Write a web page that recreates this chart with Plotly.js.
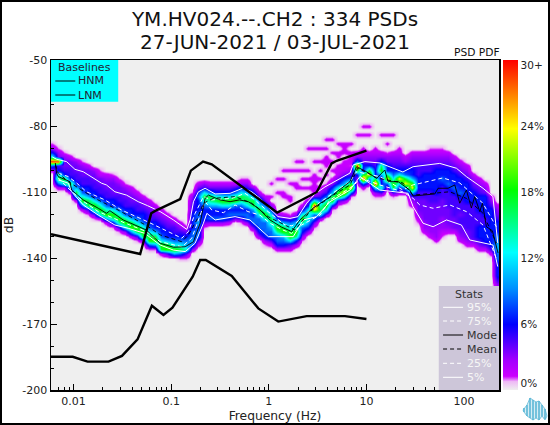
<!DOCTYPE html>
<html><head><meta charset="utf-8">
<script src="https://cdn.plot.ly/plotly-3.0.1.min.js"></script>
<style>html,body{margin:0;padding:0;background:#fff}#g{width:550px;height:425px}
#frame{position:absolute;left:0;top:0;width:550px;height:425px;box-sizing:border-box;border:2px solid #000;pointer-events:none}
#logo{position:absolute;left:522px;top:396px;width:26px;height:25px}</style>
</head><body><div id="g"></div><div id="frame"></div>
<svg id="logo" viewBox="0 0 26 25"><path d="M2 12 V16 M5 9 V20 M8 2 V22 M11 4 V24 M14 6 V22 M17 5 V24 M20 9 V20 M23 13 V23" stroke="#5cb8d6" stroke-width="1.6" fill="none"/><path d="M1 14 L5 9 L8 2 L11 4 L14 6 L17 5 L20 9 L23 13 L25 20 L23 24 L20 20 L17 24 L14 22 L11 24 L8 22 L5 20 L2 16 Z" fill="#5cb8d6" fill-opacity=".25" stroke="#5cb8d6" stroke-width=".8"/></svg>
<script>
const titleLines = ['YM.HV024.--.CH2 : 334 PSDs', '27-JUN-2021 / 03-JUL-2021'];
const yTicks = [-50,-80,-110,-140,-170,-200];
const yLabels = ['-50','-80','-110','-140','-170','-200'];
const xTicks = [0.01,0.1,1,10,100];
const xLabels = ['0.01','0.1','1','10','100'];
const xMinor = [0.006,0.007,0.008,0.009,0.02,0.03,0.04,0.05,0.06,0.07,0.08,0.09,0.2,0.3,0.4,0.5,0.6,0.7,0.8,0.9,2,3,4,5,6,7,8,9,20,30,40,50,60,70,80,90,200];
const cbTicks = [0.06,5.64,11.88,18.12,24.36,30.13];
const cbLabels = ['0%','6%','12%','18%','24%','30+'];

// Peterson baselines
const hnmF = [0.00587,0.0481,0.0624,0.0686,0.1236,0.159,0.212,0.26,1.22,3.09,4.4,4.95,10];
const hnmDb = [-129.2,-138.2,-119.7,-118.6,-113.2,-100.3,-96.2,-97.4,-119.4,-110.1,-97,-95.8,-91.2];
const lnmF = [0.00587,0.0098,0.0139,0.0228,0.0313,0.0452,0.0634,0.0833,0.103,0.166,0.198,0.226,0.417,0.78,1.25,2.44,6.03,10];
const lnmDb = [-184.9,-184.9,-187.1,-187.1,-184.5,-177,-161.7,-165.9,-162.6,-148.5,-140.9,-140.9,-148.2,-162.9,-168.9,-166.4,-166.4,-167.7];

// statistics: log10 frequency, dB
const p95L = [-2.218,-2.174,-2.072,-1.986,-1.901,-1.816,-1.714,-1.663,-1.577,-1.458,-1.338,-1.243,-1.113,-0.977,-0.84,-0.806,-0.772,-0.721,-0.653,-0.55,-0.397,-0.312,-0.264,-0.175,-0.09,-0.008,0.094,0.217,0.299,0.388,0.472,0.575,0.708,0.831,0.864,0.984,1.137,1.373,1.478,1.751,1.922,2.024,2.194,2.296,2.345];
const p95Db = [-94.1,-95.1,-96.2,-99.7,-100.8,-103,-106,-106.8,-109.9,-111.4,-114.4,-116.2,-118.9,-122.7,-127,-122.7,-114.4,-109.9,-108.3,-110.9,-110.6,-109.1,-108.2,-109.9,-112.9,-116.7,-121.2,-122,-121.2,-115.1,-110.9,-107.7,-104.5,-101.4,-97.7,-96.2,-96.8,-100.9,-98.5,-97,-99.2,-103,-108.3,-112.1,-133.2];
const p75L = [-2.157,-2.054,-1.969,-1.867,-1.679,-1.509,-1.243,-1.113,-0.891,-0.824,-0.755,-0.67,-0.584,-0.38,-0.244,-0.141,-0.008,0.166,0.237,0.336,0.421,0.626,0.83,0.899,1.137,1.373,1.475,1.547,1.782,1.956,2.191,2.331];
const p75Db = [-101.4,-103,-105.9,-109.9,-113.6,-118.2,-123.5,-126.4,-131,-128,-119.7,-112.1,-113.6,-112.9,-110.6,-113.6,-118.9,-125,-125.4,-122,-118.2,-111.4,-105.3,-100.8,-103,-109.1,-106.8,-106.1,-103.6,-105.9,-115,-125.8];
const modeL = [-2.187,-2.174,-2.157,-2.037,-2.02,-1.901,-1.747,-1.663,-1.628,-1.492,-1.253,-1.113,-0.977,-0.857,-0.772,-0.704,-0.653,-0.619,-0.499,-0.397,-0.302,-0.21,-0.107,0.012,0.132,0.234,0.319,0.401,0.452,0.626,0.831,0.899,1.001,1.104,1.188,1.222,1.325,1.444,1.478,1.58,1.7,1.734,1.836,1.905,1.956,2.024,2.075,2.109,2.161,2.188,2.229,2.29,2.348];
const modeDb = [-96.8,-101.5,-103,-105.3,-109.1,-113.6,-117.4,-119.7,-118.5,-122.7,-127.3,-133.3,-135.1,-134.9,-132.6,-124.2,-112.9,-111.4,-113.6,-114.4,-113.6,-114.4,-117.4,-122.7,-126,-128,-122.7,-119.5,-117.3,-112.3,-105.3,-98.5,-100.8,-103.8,-100,-105.3,-105.3,-109.1,-111.8,-111.4,-110.9,-108.3,-108.3,-106.8,-115.1,-109.1,-117.3,-112.1,-118.9,-115.1,-125.8,-127.6,-137.7];
const meanL = [-2.187,-2.157,-2.054,-1.969,-1.781,-1.577,-1.243,-1.113,-0.891,-0.824,-0.738,-0.67,-0.568,-0.346,-0.175,-0.008,0.166,0.268,0.336,0.421,0.626,0.831,0.912,1.104,1.373,1.475,1.854,2.024,2.191,2.331];
const meanDb = [-97.7,-101.4,-105.3,-107.6,-112.9,-117.4,-125.5,-129.5,-132.6,-129.5,-122.7,-115.1,-112.9,-112.1,-115.1,-121.2,-125,-127.3,-123.5,-118.9,-112.4,-106.8,-99.1,-103.6,-105.9,-111.4,-109.9,-112.9,-119.5,-133.2];
const p25L = [-2.157,-2.037,-1.921,-1.747,-1.474,-1.253,-1.113,-0.891,-0.789,-0.704,-0.653,-0.584,-0.465,-0.346,-0.213,-0.09,0.012,0.145,0.234,0.336,0.524,0.626,0.831,0.95,1.137,1.373,1.478,1.547,1.683,1.854,2.024,2.194,2.331];
const p25Db = [-103.6,-109.1,-113.6,-118.9,-124.1,-128,-132.6,-134.9,-131,-121.2,-114.4,-118.2,-119.4,-115.9,-118.9,-120.5,-124.2,-127.3,-128.8,-125,-120.5,-113.6,-108.3,-103.8,-106.8,-109.9,-112.9,-115.9,-117.4,-115.9,-118.9,-125,-140.2];
const p5L = [-2.157,-2.054,-2.02,-1.901,-1.747,-1.577,-1.44,-1.27,-1.113,-0.977,-0.857,-0.755,-0.67,-0.635,-0.55,-0.346,-0.193,-0.005,0.114,0.25,0.353,0.49,0.626,0.831,0.933,1.137,1.427,1.478,1.58,1.683,1.82,1.973,2.058,2.296,2.345];
const p5Db = [-104.5,-106,-109.9,-115.9,-120.5,-125,-126.5,-128.8,-134.1,-136.4,-137.1,-133.3,-124.2,-119.7,-122.7,-121.2,-122.7,-130.3,-130.3,-130.3,-122.7,-121.2,-114.4,-109.1,-103,-109.1,-110.6,-116.7,-124.2,-125.8,-122.7,-125,-131.8,-134.1,-143.9];

// PDF: one entry per frequency column: top dB, then occurrence codes every 2 dB downward
const pdfLogF = [-2.225,-2.163,-2.1,-2.038,-1.975,-1.913,-1.85,-1.788,-1.725,-1.663,-1.6,-1.538,-1.475,-1.413,-1.35,-1.288,-1.225,-1.163,-1.1,-1.038,-.975,-.913,-.85,-.788,-.725,-.663,-.6,-.538,-.475,-.413,-.35,-.288,-.225,-.163,-.1,-.038,.025,.088,.15,.213,.275,.338,.4,.463,.525,.588,.65,.713,.775,.838,.9,.963,1.025,1.088,1.15,1.213,1.275,1.338,1.4,1.463,1.525,1.588,1.65,1.713,1.775,1.838,1.9,1.963,2.025,2.088,2.15,2.213,2.275,2.338];
const pdfDb = [-78,-80,-82,-84,-86,-88,-90,-92,-94,-96,-98,-100,-102,-104,-106,-108,-110,-112,-114,-116,-118,-120,-122,-124,-126,-128,-130,-132,-134,-136,-138,-140,-142,-144,-146,-148,-150,-152];
const pdfTop = [-88,-90,-92,-94,-96,-96,-98,-100,-100,-102,-102,-104,-106,-108,-110,-112,-114,-116,-118,-120,-122,-124,-126,-110,-106,-106,-106,-106,-106,-106,-106,-104,-104,-108,-110,-112,-116,-120,-120,-120,-120,-116,-114,-110,-108,-106,-104,-102,-100,-98,-92,-92,-92,-92,-92,-92,-92,-92,-94,-92,-92,-92,-90,-90,-90,-92,-94,-96,-98,-102,-104,-106,-112,-116];
const pdfCodes = ['1369f72','134f56ac72','134456ca2','244556c82','3445568c82','13445567ad72','24455668cc51','34455669db41','12445567ada2','23445567ad82','134445669db61','13445567adb51','13445567bd93','23445668cd82','23455679dc51','2345667adc3','23455679cd71','2345668cd81','23456679dc2','2345668cd5','2355679d8','235679c71','24678a51','13455666677873','246766677877752','359ca766641','247cb86673','246ac86673','2469d96673','2469d96762','257bd7674','1369cb76751','1358bc96773','368cc867741','2579da77763','2479da777631','369cb87752','36adb7762','258cd8762','1479cd952','368adb63','25adb7631','369a9863','149fe7741','1357ac93','1357ada4','1368cd61','2469dd51','2468ce93','1357ce71','237fc631','23466cf72','2346ce83','234566bf931','236bd856a51','13466be73','2345679dc51','234569e963','23567ce83','2345668de8532','23455566655444321','2345566665544444332','123455666655544444332','1234566666655444443332','123456676555444433321','2345666765555444432','234566676555554442','2345666765554554432','2345666665555554432','23456665555555542','23456666555666542','2346666655666652','23566666666652','2345666778877666653'];
// isolated weak cells above the main band: column, dB
const sparseCol = [51,50,52,54,56,47,45,49,42,44,48,55,57,40,41,45,38,38,40,42,43,39,40,37,38,41,46,49,47,45,48,51,53,44,44,45,46,46,47,47,48,48,49,49,41,42,43,43,44,52,51,55,48,46,43,45,41,39,43,40,38,39,36,36,37,35,36,39,42,41,44,43,46,47,45,44,43];
const sparseDb = [-80,-84,-84,-84,-84,-88,-86,-88,-90,-90,-90,-88,-90,-96,-96,-96,-100,-104,-100,-104,-106,-106,-108,-110,-112,-108,-100,-96,-94,-94,-92,-90,-90,-100,-104,-102,-96,-104,-98,-100,-96,-98,-92,-94,-104,-108,-102,-110,-108,-80,-84,-84,-88,-86,-90,-90,-96,-100,-104,-106,-110,-112,-106,-112,-104,-112,-116,-114,-100,-100,-96,-96,-92,-92,-98,-112,-108];
const codePct = {'0':-0.6,'1':0.5,'2':1.4,'3':2.5,'4':3.3,'5':4.2,'6':6,'7':8,'8':10,'9':12,'a':13.5,'b':15,'c':17,'d':19,'e':24,'f':30};

const pdfZ = pdfDb.map(()=>pdfLogF.map(()=>codePct['0']));
pdfCodes.forEach((s,c)=>{ [...s].forEach((ch,k)=>{ const r=pdfDb.indexOf(pdfTop[c]-2*k); if(r>=0) pdfZ[r][c]=codePct[ch]; }); });
sparseCol.forEach((c,n)=>{ const r=pdfDb.indexOf(sparseDb[n]); if(pdfZ[r][c]<1) pdfZ[r][c]=1; });

const unlog = a=>a.map(v=>Math.pow(10,v));
const L=50.7,R=499.3,T=60,B=390;
const px=x=>(x-L)/(R-L), py=y=>(B-y)/(B-T);
const z2n=z=>(z+0.6)/31.2;
const colorscale=[[0,'#efefef'],[z2n(0.2),'#eeb8f6'],[z2n(0.7),'#cc00ff'],[z2n(2.3),'#a000ff'],[z2n(5.6),'#0000ff'],[z2n(9),'#0090ff'],[z2n(12.4),'#00ffff'],[z2n(18.3),'#00ff00'],[z2n(24.1),'#ffff00'],[1,'#ff0000']];

const line=(xs,ys,color,dash,width)=>({type:'scatter',mode:'lines',x:xs,y:ys,hoverinfo:'skip',line:{color,dash:dash||'solid',width:width||1}});
const DASH='4px,3px';
const data=[
 {type:'heatmap',x:pdfLogF.map(v=>Math.pow(10,v)),y:pdfDb,z:pdfZ,zmin:-0.6,zmax:30.6,zsmooth:'best',colorscale,hoverinfo:'skip',
  colorbar:{x:px(503.3),xanchor:'left',xpad:0,ypad:0,y:0,yanchor:'bottom',len:1,thickness:15,thicknessmode:'pixels',outlinewidth:0,ticks:'',tickmode:'array',tickvals:cbTicks,ticktext:cbLabels,ticklen:0,tickfont:{size:10.5,color:'#222',family:'DejaVu Sans'}}},
 line(unlog(p95L),p95Db,'#ffffff'),
 line(unlog(p75L),p75Db,'#ffffff',DASH),
 line(unlog(p25L),p25Db,'#ffffff',DASH),
 line(unlog(p5L),p5Db,'#ffffff'),
 line(unlog(modeL),modeDb,'#000000',null,0.9),
 line(unlog(meanL),meanDb,'#000000',DASH,0.9),
 line(hnmF,hnmDb,'#000000',null,2.4),
 line(lnmF,lnmDb,'#000000',null,2.4)
];
const shapes=[
 {type:'rect',xref:'paper',yref:'paper',x0:px(50.7),x1:px(118),y0:py(60),y1:py(101.7),fillcolor:'#0ff',line:{width:0},layer:'above'},
 {type:'rect',xref:'paper',yref:'paper',x0:px(439),x1:px(499.3),y0:py(286),y1:py(390),fillcolor:'#cdc6d9',line:{width:0},layer:'above'}
];
const annotations=[];
const txt=(x,y,t,color,anchor,size)=>annotations.push({xref:'paper',yref:'paper',x:px(x),y:py(y),text:t,showarrow:false,xanchor:anchor||'left',yanchor:'middle',xshift:0,borderpad:0,font:{size:size||11,color:color||'#222',family:'DejaVu Sans'}});
const seg=(x0,x1,y,color,dash)=>shapes.push({type:'line',xref:'paper',yref:'paper',x0:px(x0),x1:px(x1),y0:py(y),y1:py(y),layer:'above',line:{color,width:1,dash:dash||'solid'}});
txt(84,67.5,'Baselines','#223',"center");
seg(55,75,81,'#000'); txt(77,81,'HNM','#223');
seg(55,75,95,'#000'); txt(77,95,'LNM','#223');
txt(469,294,'Stats','#333','center');
[['95%','#f6f6f6',null,307.3],['75%','#f6f6f6',DASH,321],['Mode','#333',null,335],['Mean','#333',DASH,349],['25%','#f6f6f6',DASH,363.3],['5%','#f6f6f6',null,377.3]].forEach(r=>{
  seg(443.3,463.3,r[3],r[1]==='#333'?'#000':'#fff',r[2]); txt(466.5,r[3],r[0],r[1]);
});
txt(477,53,'PSD PDF','#111','center',10.7);
txt(275.5,42,titleLines[1],'#111','center',20);

const layout={
 width:550,height:425,
 margin:{l:L,r:550-R,t:T,b:425-B,autoexpand:false,pad:0},
 paper_bgcolor:'#fff',plot_bgcolor:'#efefef',showlegend:false,
 font:{family:'DejaVu Sans',color:'#222',size:11},
 title:{text:titleLines[0],font:{size:20,color:'#111',family:'DejaVu Sans'},x:0.5,xanchor:'center',xref:'paper',yref:'container',y:1-19/425,yanchor:'middle'},
 xaxis:{type:'log',range:[Math.log10(0.00587),Math.log10(228)],title:{text:'Frequency (Hz)',standoff:4,font:{size:12.3}},
  showgrid:false,zeroline:false,showline:true,mirror:true,linecolor:'#000',linewidth:1.5,
  tickmode:'array',tickvals:xTicks,ticktext:xLabels,ticks:'inside',ticklen:6,tickwidth:1,tickcolor:'#000',
  minor:{tickmode:'array',tickvals:xMinor,ticks:'inside',ticklen:3,tickwidth:1,tickcolor:'#000',showgrid:false}},
 yaxis:{range:[-200,-50],title:{text:'dB',standoff:6,font:{size:12.3}},
  showgrid:false,zeroline:false,showline:true,mirror:true,linecolor:'#000',linewidth:1.5,
  tickmode:'array',tickvals:yTicks,ticktext:yLabels,ticks:'inside',ticklen:6,tickwidth:1,tickcolor:'#000',
  minor:{dtick:10,ticks:'inside',ticklen:3,tickwidth:1,tickcolor:'#000',showgrid:false}},
 shapes,annotations
};
Plotly.newPlot('g',data,layout,{displayModeBar:false,staticPlot:true});
</script></body></html>
